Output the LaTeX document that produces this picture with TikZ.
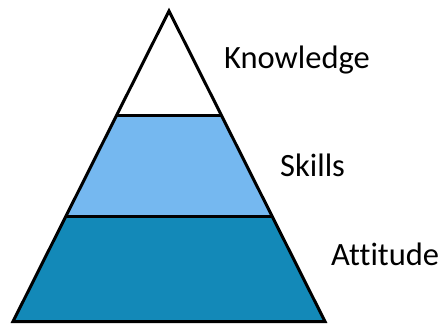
\documentclass[tikz,border=0pt]{standalone}
\usepackage{fontspec}
\setmainfont{Carlito}[Ligatures=NoCommon]
\definecolor{skillblue}{HTML}{75B8F0}
\definecolor{attblue}{HTML}{1389B8}
\begin{document}
\begin{tikzpicture}[x=1pt,y=-1pt,
  layer/.style={draw=black,line width=3pt,line join=miter},
  lbl/.style={anchor=base west,inner sep=0pt,font=\fontsize{32.5}{38}\selectfont}]
\useasboundingbox (0,0) rectangle (442,325);
% corner points of the pyramid and its bands
\coordinate (top) at (169,11);
\coordinate (bl) at (13,321.5);
\coordinate (br) at (325,321.5);
\coordinate (m1l) at (116.5,115.5);
\coordinate (m1r) at (221.5,115.5);
\coordinate (m2l) at (66,216.5);
\coordinate (m2r) at (272,216.5);
% bands, from bottom to top
\fill[attblue] (bl) -- (br) -- (m2r) -- (m2l) -- cycle;
\fill[skillblue] (m2l) -- (m2r) -- (m1r) -- (m1l) -- cycle;
\fill[white] (m1l) -- (m1r) -- (top) -- cycle;
\draw[layer] (top) -- (bl) -- (br) -- cycle;
\draw[layer] (m1l) -- (m1r);
\draw[layer] (m2l) -- (m2r);
% labels
\node[lbl] (know) at (224,68) {Knowledge};
\node[lbl] (skill) at (280,176) {Skills};
\node[lbl] (att) at (331,265) {Attitude};
\end{tikzpicture}
\end{document}
